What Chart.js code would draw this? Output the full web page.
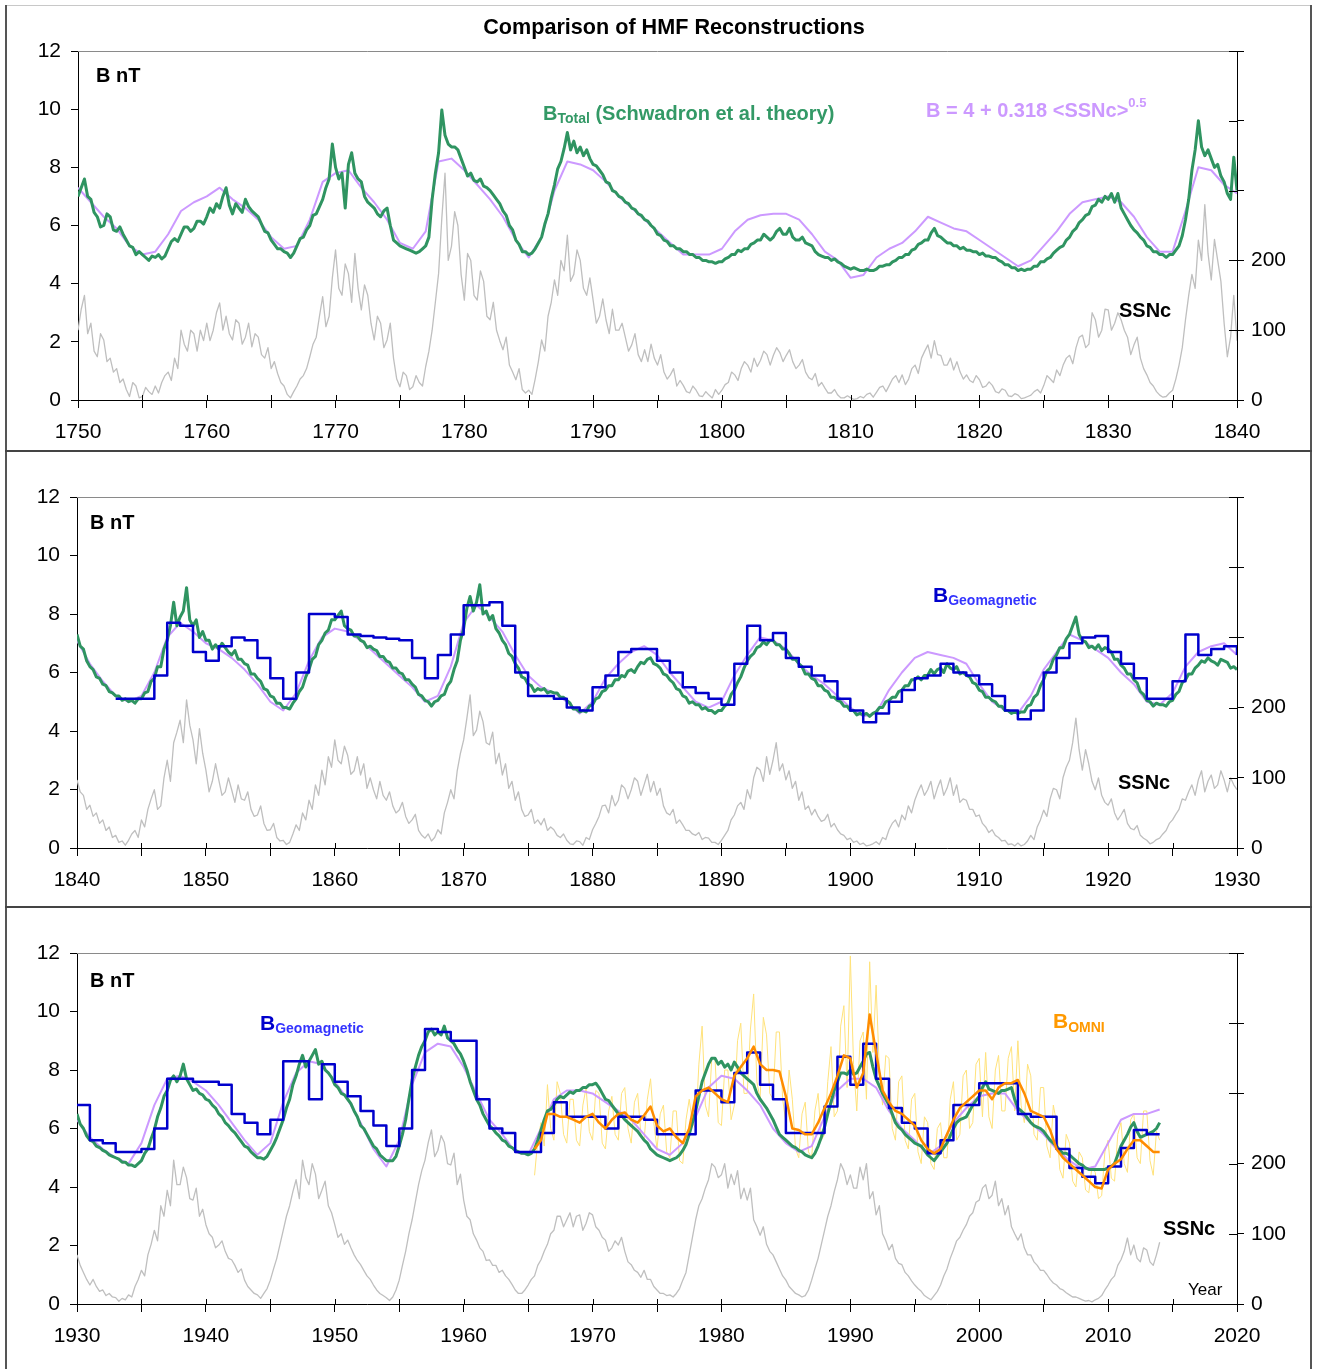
<!DOCTYPE html>
<html>
<head>
<meta charset="utf-8">
<title>Comparison of HMF Reconstructions</title>
<script src="https://cdn.jsdelivr.net/npm/chart.js@4.4.1/dist/chart.umd.min.js"></script>
<style>
  html, body { margin: 0; padding: 0; background: #fff; }
  #page { position: relative; width: 1318px; height: 1369px; overflow: hidden; background: #fff; }
  canvas { position: absolute; left: 0; }
  .rule { position: absolute; }
</style>
</head>
<body>
<div id="page">
  <canvas id="c1" width="1318" height="452" style="top:0px"></canvas>
  <canvas id="c2" width="1318" height="456" style="top:452px"></canvas>
  <canvas id="c3" width="1318" height="461" style="top:908px"></canvas>
  <div class="rule" style="left:5px;top:5px;width:1307px;height:1px;background:#c8c8c8"></div>
  <div class="rule" style="left:5px;top:5px;width:2px;height:1364px;background:#555"></div>
  <div class="rule" style="left:1310px;top:5px;width:2px;height:1364px;background:#555"></div>
  <div class="rule" style="left:5px;top:450px;width:1307px;height:2px;background:#444"></div>
  <div class="rule" style="left:5px;top:906px;width:1307px;height:2px;background:#444"></div>
</div>
<script>
// ---- data ----
// SSNc and B_Total every quarter year, SSN fit yearly, geomagnetic B as yearly steps

// panel 1: 1750-1840
const p1Years = [1750, 1840];
const p1Total = [ // B_Total nT, from 1750.0 every 0.25 yr
  7.0,7.3,7.6,7.0, 6.9,6.45,6.3,5.95, 6.0,6.4,6.3,5.85, 5.8,5.95,5.7,5.5, 5.3,5.25,5.0,5.1, 5.0,4.9,4.8,4.95, 4.9,5.0,4.85,4.95, 5.2,5.45,5.55,5.45, 5.7,5.95,5.95,5.8, 5.9,6.15,6.15,6.05,
  6.3,6.6,6.45,6.75, 6.6,7.0,7.3,6.7, 6.4,6.75,6.6,6.45, 6.9,6.65,6.5,6.4, 6.3,6.05,5.8,5.75, 5.5,5.35,5.2,5.2, 5.1,5.05,4.9,5.05, 5.3,5.55,5.6,5.85, 6.0,6.35,6.4,6.65, 6.9,7.3,7.6,8.8,
  8.0,7.6,7.8,6.6, 8.1,8.5,7.8,7.6, 7.5,7.0,6.8,6.7, 6.6,6.4,6.3,6.5, 6.6,6.0,5.5,5.4, 5.3,5.25,5.2,5.15, 5.1,5.05,5.1,5.2, 5.3,5.6,6.9,7.8, 8.5,9.97,9.1,8.8, 8.7,8.7,8.6,8.3,
  8.0,7.7,7.8,7.55, 7.5,7.6,7.35,7.3, 7.2,7.05,6.9,6.75, 6.5,6.35,6.0,5.85, 5.5,5.35,5.1,5.1, 5.0,5.05,5.2,5.4, 5.6,6.05,6.4,6.95, 7.4,7.95,8.2,8.65, 9.2,8.6,8.9,8.5, 8.7,8.4,8.6,8.3,
  8.1,8.05,7.9,7.75, 7.5,7.45,7.2,7.15, 7.0,6.95,6.8,6.75, 6.6,6.55,6.4,6.35, 6.2,6.15,6.0,5.9, 5.7,5.65,5.5,5.45, 5.3,5.3,5.2,5.2, 5.1,5.1,5.0,5.0, 4.9,4.9,4.8,4.8, 4.75,4.75,4.7,4.75,
  4.75,4.85,4.9,5.0, 5.0,5.15,5.1,5.2, 5.2,5.35,5.4,5.5, 5.5,5.7,5.6,5.5, 5.6,5.8,5.9,5.7, 5.7,5.9,5.6,5.5, 5.5,5.6,5.4,5.35, 5.3,5.1,5.0,4.95, 4.9,4.9,4.8,4.85, 4.75,4.7,4.6,4.55,
  4.5,4.55,4.5,4.45, 4.45,4.5,4.45,4.45, 4.5,4.6,4.6,4.65, 4.65,4.75,4.8,4.9, 4.9,5.0,5.0,5.15, 5.2,5.35,5.4,5.5, 5.5,5.75,5.9,5.65, 5.6,5.5,5.4,5.4, 5.3,5.3,5.2,5.25, 5.15,5.15,5.1,5.1,
  5.0,5.05,4.95,4.95, 4.9,4.9,4.8,4.75, 4.65,4.65,4.55,4.55, 4.45,4.5,4.45,4.5, 4.5,4.6,4.6,4.75, 4.75,4.85,4.9,5.05, 5.15,5.25,5.3,5.5, 5.6,5.8,5.9,6.1, 6.2,6.35,6.4,6.65, 6.7,6.9,6.8,7.0,
  6.9,7.1,6.8,7.1, 6.6,6.4,6.2,6.0, 5.85,5.75,5.6,5.5, 5.3,5.25,5.1,5.1, 5.0,5.0,4.9,5.0, 5.0,5.15,5.3,5.65, 6.2,6.9,7.9,8.6, 9.6,8.7,8.4,8.6, 8.3,8.0,8.1,7.7, 7.5,7.1,6.9,8.35,
  7.2
];
const p1Fit = [ // B = 4 + 0.318 <SSNc>^0.5, yearly from 1750
  7.3,6.8,6.3,5.9,5.3,5.0,5.1,5.7,6.5,6.8, 7.0,7.3,6.9,6.6,6.2,5.6,5.2,5.3,6.2,7.5,
  7.8,7.9,7.3,6.8,6.2,5.4,5.2,5.8,8.2,8.3, 7.9,7.4,6.9,6.3,5.5,4.9,5.6,7.2,8.2,8.1,
  7.9,7.5,7.0,6.6,6.2,5.8,5.4,5.0,5.0,5.0, 5.2,5.8,6.2,6.35,6.4,6.4,6.2,5.7,5.1,4.8,
  4.2,4.3,4.9,5.2,5.4,5.8,6.3,6.1,5.9,5.8, 5.5,5.2,4.9,4.6,4.8,5.3,5.8,6.4,6.8,6.9,
  7.0,6.8,6.3,5.6,5.1,5.1,6.5,8.0,7.9,7.4, 7.1
];
const p1Ssn = [ // SSNc, from 1750.0 every 0.25 yr
  100,130,150,95, 110,70,62,95, 86,55,60,40, 45,25,30,15, 5,25,20,3, 5,18,12,8, 20,10,25,35, 40,28,60,45, 100,80,70,100, 95,70,100,85,
  110,85,100,125, 139,100,120,95, 86,115,110,80, 90,110,76,95, 90,65,60,75, 45,55,38,25, 20,8,3,12, 20,30,35,45, 62,80,90,120, 148,105,120,175,
  215,160,150,195, 181,140,210,160, 129,165,150,110, 86,120,110,75, 86,110,60,30, 19,40,35,15, 19,35,25,20, 48,70,100,140, 181,260,325,200, 220,270,250,180,
  143,210,200,150, 143,185,170,120, 115,140,100,85, 72,90,50,40, 29,45,15,10, 14,8,30,55, 86,70,120,140, 172,150,200,185, 236,170,180,215, 200,160,150,175,
  143,110,120,145, 115,95,130,100, 100,110,90,70, 79,95,65,55, 72,55,80,60, 50,65,40,30, 36,45,20,28, 21,12,10,20, 14,6,5,12, 7,3,15,8,
  14,22,25,40, 36,28,45,55, 50,40,60,48, 57,70,65,50, 64,75,68,55, 64,72,55,45, 50,58,40,32, 29,38,20,25, 17,10,10,15, 7,3,3,6,
  3,1,2,5, 3,8,10,4, 11,18,20,12, 21,30,35,25, 36,22,30,45, 50,38,60,70, 79,60,85,65, 64,50,50,60, 43,55,40,30, 36,28,25,35,
  29,18,20,26, 21,12,10,16, 14,6,5,9, 7,2,3,5, 7,12,15,10, 21,35,30,25, 43,35,50,60, 64,52,75,90, 93,75,80,125, 115,90,100,130,
  129,100,110,125, 115,100,90,65, 79,90,60,45, 36,25,20,12, 7,4,5,10, 14,30,50,75, 115,150,180,160, 229,200,280,210, 172,230,200,170, 110,62,90,150,
  85
];

// panel 2: 1840-1930
const p2Years = [1840, 1930];
const p2Total = [ // from 1840.0 every 0.25 yr
  7.3,6.9,6.8,6.4, 6.2,6.1,5.85,5.8, 5.6,5.55,5.35,5.3, 5.2,5.2,5.05,5.1, 5.0,5.05,4.95,5.1, 5.1,5.3,5.35,5.7, 5.8,6.2,6.2,6.8, 7.1,7.6,8.4,7.6, 7.9,8.1,8.9,7.8, 7.6,7.8,7.2,7.4,
  7.1,7.1,6.8,6.95, 6.8,7.0,6.85,6.7, 6.6,6.75,6.45,6.45, 6.3,6.25,5.95,5.95, 5.8,5.7,5.45,5.4, 5.2,5.15,4.95,4.95, 4.8,4.8,4.75,4.95, 5.1,5.35,5.5,5.85, 6.1,6.45,6.55,6.95, 7.1,7.35,7.45,7.8,
  7.8,7.95,8.1,7.6, 7.5,7.45,7.25,7.25, 7.1,7.05,6.85,6.9, 6.8,6.75,6.55,6.55, 6.4,6.35,6.15,6.15, 6.0,5.95,5.75,5.75, 5.6,5.5,5.25,5.2, 5.05,5.0,4.85,5.0, 5.05,5.2,5.25,5.55, 5.7,6.1,6.4,7.1,
  7.5,8.2,8.6,8.1, 8.4,9.0,8.0,8.1, 7.8,7.95,7.5,7.35, 7.1,6.95,6.65,6.55, 6.3,6.15,5.85,5.8, 5.6,5.55,5.35,5.45, 5.4,5.45,5.3,5.35, 5.3,5.3,5.15,5.15, 5.05,4.95,4.75,4.75, 4.65,4.7,4.65,4.85,
  4.9,5.1,5.15,5.35, 5.4,5.55,5.55,5.75, 5.75,5.9,5.85,6.05, 6.1,6.0,6.2,6.35, 6.3,6.45,6.5,6.3, 6.25,6.15,5.95,5.9, 5.75,5.65,5.45,5.4, 5.2,5.15,4.95,5.0, 4.9,4.9,4.75,4.8, 4.7,4.7,4.6,4.7,
  4.7,4.85,4.95,5.25, 5.4,5.65,5.85,6.15, 6.4,6.55,6.65,6.85, 6.9,7.05,6.95,7.1, 7.1,6.95,6.95,6.8, 6.8,6.65,6.45,6.45, 6.3,6.2,5.95,5.95, 5.8,5.75,5.55,5.55, 5.4,5.35,5.15,5.15, 5.05,5.0,4.85,4.85,
  4.7,4.7,4.55,4.6, 4.55,4.6,4.5,4.6, 4.65,4.8,4.8,5.0, 5.05,5.15,5.15,5.35, 5.4,5.55,5.55,5.75, 5.75,5.85,5.75,5.9, 5.9,6.1,5.95,6.1, 6.15,6.0,6.3,6.15, 6.1,6.2,5.95,6.0, 5.9,5.85,5.65,5.6,
  5.4,5.35,5.15,5.15, 5.05,5.0,4.85,4.85, 4.7,4.7,4.6,4.65, 4.6,4.65,4.65,4.85, 4.9,5.15,5.25,5.55, 5.75,6.05,6.15,6.45, 6.6,6.85,6.85,7.15, 7.3,7.6,7.9,7.3, 7.1,7.05,6.85,6.9, 6.8,6.95,6.75,6.85,
  6.8,6.7,6.45,6.45, 6.25,6.15,5.95,5.95, 5.75,5.65,5.35,5.25, 5.05,5.0,4.85,4.95, 4.9,4.9,4.85,5.0, 5.05,5.25,5.35,5.65, 5.75,5.95,5.95,6.15, 6.25,6.4,6.35,6.5, 6.4,6.35,6.25,6.45, 6.4,6.35,6.15,6.2,
  6.1
];
const p2Fit = [
  7.1,6.3,5.7,5.2,5.0,5.2,6.0,7.2,7.7,7.4, 7.0,6.8,6.5,6.1,5.6,5.0,4.7,5.3,6.4,7.2,
  7.5,7.4,7.1,6.7,6.3,5.9,5.5,5.0,5.2,6.2, 7.7,8.3,7.9,7.4,6.6,5.9,5.5,5.3,5.0,4.6,
  5.0,5.8,6.3,6.7,6.9,6.6,6.0,5.5,5.0,4.8, 5.0,5.9,6.6,7.2,7.1,6.8,6.3,5.9,5.6,5.2,
  4.8,4.5,4.6,5.4,6.0,6.5,6.7,6.6,6.5,6.3, 5.6,5.0,4.7,4.6,5.2,6.1,6.7,7.3,7.1,6.8,
  6.5,6.0,5.6,5.0,4.9,5.3,6.2,6.7,6.9,7.0, 6.6
];
const p2GeoStart = 1843;
const p2Geo = [ // B_Geomagnetic, yearly steps from 1843, closing value at 1930
  5.1,5.1,5.1,5.9,7.7,7.6,6.7,6.4,6.9,7.2,7.1,
  6.5,5.8,5.1,6.0,8.0,8.0,7.9,7.3,7.25,7.2,
  7.15,7.1,6.5,5.8,6.6,7.3,8.3,8.3,8.4,7.6,
  6.0,5.2,5.2,5.1,4.8,4.7,5.5,5.9,6.7,6.8,
  6.8,6.4,6.0,5.5,5.3,5.1,4.9,6.3,7.6,7.1,
  7.35,6.5,6.2,5.9,5.7,5.1,4.7,4.3,4.6,5.0,
  5.4,5.8,5.9,6.3,6.0,5.9,5.6,5.2,4.7,4.4,
  4.7,6.0,6.5,7.0,7.2,7.25,6.7,6.3,5.8,5.1,
  5.1,5.7,7.3,6.6,6.8,6.9,6.6
];
const p2Ssn = [ // from 1840.0 every 0.25 yr
  97,80,75,55, 61,45,50,35, 40,25,30,15, 18,8,10,4, 11,20,25,15, 40,30,55,70, 83,55,60,100, 125,95,150,165, 182,150,211,175, 154,120,170,135,
  111,80,95,120, 97,75,80,100, 83,65,90,70, 68,80,55,45, 47,60,35,25, 26,35,15,10, 11,5,8,20, 33,25,50,40, 68,55,90,75, 111,90,130,115,
  154,125,120,145, 132,105,110,130, 104,120,85,100, 83,70,95,75, 68,80,60,50, 54,65,45,35, 40,48,25,18, 14,20,10,15, 26,20,50,65, 83,70,110,135,
  154,185,218,160, 168,195,180,150, 147,165,120,135, 104,120,85,95, 68,80,55,45, 47,55,35,40, 33,42,25,30, 26,18,15,20, 11,6,5,10, 9,4,15,12,
  26,35,45,60, 61,50,75,60, 68,90,85,70, 83,100,95,75, 90,105,80,95, 75,85,60,50, 47,55,35,40, 33,25,25,20, 18,22,12,15, 14,8,8,5,
  11,18,25,40, 47,60,65,55, 83,70,100,115, 111,95,130,105, 125,150,110,120, 97,110,85,95, 68,80,55,60, 47,55,45,38, 40,48,30,35, 26,20,18,12,
  14,8,10,5, 7,3,4,6, 9,5,15,12, 26,35,40,30, 47,40,60,50, 68,80,90,75, 83,95,70,85, 97,75,85,100, 75,90,65,70, 68,55,55,45,
  47,35,30,22, 26,18,15,10, 11,5,6,3, 7,3,5,10, 18,12,30,40, 54,45,70,85, 83,70,100,115, 125,150,185,140, 111,140,120,95, 83,100,75,65,
  61,70,50,40, 47,55,35,28, 26,32,18,14, 11,6,8,12, 14,20,25,35, 40,48,55,70, 68,80,90,75, 97,110,80,95, 104,85,90,110, 97,80,100,90,
  83
];

// panel 3: 1930-2020 (data end 2014)
const p3Years = [1930, 2020];
const p3Total = [ // from 1930.0 every 0.25 yr
  6.5,6.15,6.0,5.75, 5.6,5.55,5.4,5.35, 5.25,5.2,5.1,5.05, 5.0,4.95,4.85,4.85, 4.75,4.75,4.7,4.8, 4.9,5.15,5.3,5.65, 5.95,6.4,6.7,7.1, 7.3,7.65,7.8,7.6, 7.8,8.2,7.7,7.5, 7.3,7.35,7.2,7.15,
  7.0,6.95,6.8,6.7, 6.5,6.4,6.2,6.1, 5.95,5.85,5.7,5.55, 5.4,5.35,5.2,5.1, 5.0,5.0,4.95,5.05, 5.25,5.45,5.7,6.0, 6.3,6.7,7.0,7.5, 7.8,8.2,8.5,8.1, 8.3,8.5,8.7,8.2, 8.3,8.0,7.9,7.75,
  7.5,7.4,7.2,7.15, 7.0,6.85,6.6,6.4, 6.1,6.0,5.8,5.6, 5.4,5.3,5.1,5.0, 4.9,4.9,4.9,5.05, 5.4,5.8,6.3,7.0, 7.66,8.1,8.5,8.8, 9.0,9.3,9.4,9.2, 9.3,9.2,9.5,9.1, 9.0,8.9,8.7,8.55,
  8.3,8.0,7.6,7.3, 7.0,6.8,6.5,6.3, 6.1,6.0,5.85,5.75, 5.6,5.55,5.4,5.35, 5.25,5.2,5.15,5.15, 5.1,5.15,5.3,5.6, 5.95,6.3,6.6,6.65, 6.8,7.0,7.1,7.05, 7.15,7.25,7.2,7.3, 7.3,7.4,7.4,7.5,
  7.5,7.55,7.4,7.2, 7.0,6.95,6.8,6.65, 6.5,6.45,6.3,6.2, 6.1,6.0,5.9,5.75, 5.6,5.5,5.3,5.2, 5.1,5.05,5.0,4.95, 4.9,4.95,5.0,5.1, 5.25,5.45,5.8,6.2, 6.6,7.1,7.6,7.9, 8.2,8.4,8.4,8.2,
  8.3,8.1,8.2,8.0, 8.27,8.1,7.9,7.8, 7.7,7.6,7.5,7.2, 7.0,6.85,6.7,6.5, 6.3,6.05,5.8,5.7, 5.6,5.5,5.4,5.35, 5.25,5.2,5.1,5.05, 5.0,5.15,5.4,5.7, 6.05,6.5,6.9,7.3, 7.6,7.9,7.9,7.85,
  8.0,7.85,7.9,8.1, 8.3,8.55,8.6,8.1, 7.7,7.45,7.2,7.0, 6.8,6.5,6.2,6.05, 5.95,5.8,5.7,5.6, 5.5,5.45,5.4,5.25, 5.1,5.0,4.9,5.05, 5.2,5.35,5.5,5.75, 6.0,6.2,6.3,6.35, 6.4,6.6,6.8,6.95,
  7.1,7.4,7.6,7.35, 7.3,7.25,7.2,7.3, 7.3,7.35,7.4,7.0, 6.7,6.6,6.5,6.35, 6.2,6.1,6.05,6.0, 5.9,5.75,5.6,5.5, 5.4,5.25,5.15,5.15, 5.1,5.0,4.9,4.8, 4.75,4.65,4.6,4.6, 4.6,4.6,4.6,4.6,
  4.65,4.7,4.8,5.1, 5.4,5.6,5.8,6.05, 6.2,5.9,5.7,5.75, 5.8,5.85,5.9,6.0, 6.2
];
const p3Fit = [ // yearly 1930-2014
  6.3,5.7,5.3,5.0,4.8,5.5,6.8,7.7,7.8,7.6, 7.3,6.8,6.2,5.6,5.1,5.5,6.9,7.9,8.3,8.2,
  7.6,7.0,6.2,5.3,4.7,5.6,7.5,8.6,8.9,8.8, 8.1,7.2,6.3,5.8,5.2,5.1,6.0,7.0,7.3,7.3,
  7.2,6.9,6.6,6.3,5.8,5.3,5.1,5.5,6.4,7.4, 7.8,7.7,7.3,6.8,6.0,5.5,5.2,5.4,6.4,7.3,
  7.7,7.7,7.4,6.6,6.0,5.6,5.1,5.4,6.2,6.7, 7.1,7.2,7.2,6.6,6.2,5.8,5.3,4.9,4.6,4.7,
  5.5,6.3,6.5,6.5,6.65
];
const p3GeoStart = 1930;
const p3Geo = [ // yearly steps 1930-2013, closing value at 2014
  6.8,5.6,5.5,5.2,5.2,5.3,6.0,7.7,7.7,7.6, 7.6,7.5,6.5,6.2,5.8,6.3,8.3,8.3,7.0,8.2,
  7.6,7.1,6.6,6.1,5.4,6.0,8.0,9.4,9.3,9.0, 9.0,7.0,6.0,5.85,5.2,5.2,5.85,6.9,6.4,6.4,
  6.4,6.0,6.4,6.4,6.3,5.8,5.8,5.8,7.3,7.3, 6.9,7.9,8.6,7.5,7.0,5.85,5.85,5.85,6.75,8.45,
  7.5,8.9,7.7,6.7,6.2,6.0,5.15,5.6,6.8,6.8, 7.55,7.55,7.55,6.5,6.4,6.4,5.3,4.65,4.35,4.13,
  4.7,5.33,5.95,5.8,5.8
];
const p3OmniStart = 1965.5;
const p3Omni = [ // B_OMNI smoothed, every 0.5 yr from 1965.5
  5.3,
  5.6,6.5, 6.5,6.4, 6.4,6.3, 6.2,6.4, 6.5,6.2, 6.0,6.3, 6.5,6.55, 6.3,6.2, 6.45,6.75, 6.1,5.9,
  6.0,5.7, 5.5,6.0, 7.1,7.3, 7.4,7.2, 7.0,6.9, 7.8,8.1, 8.4,8.8, 8.2,8.0, 8.0,7.95, 7.1,6.0,
  5.95,5.8, 5.8,6.2, 6.7,7.2, 7.8,8.5, 8.4,7.4, 7.9,9.9, 8.6,7.3, 6.9,6.6, 6.5,6.3, 6.1,5.6,
  5.3,5.15, 5.3,5.8, 6.3,6.7, 6.9,7.1, 7.3,7.3, 7.0,7.4, 7.55,7.55, 7.66,7.2, 6.6,6.5, 6.4,5.95,
  5.3,5.0, 4.8,4.6, 4.4,4.2, 4.0,3.95, 4.6,4.8, 4.95,5.3, 5.6,5.6, 5.4,5.2, 5.2
];
const p3OmniRawStart = 1965.5;
const p3OmniRaw = [ // B_OMNI unsmoothed, every 0.25 yr from 1965.5
  4.4,5.6,
  6.2,5.4,7.5,6.0, 5.6,7.6,7.2,5.8, 5.5,7.0,7.0,5.6, 5.4,6.8,7.4,5.9, 5.6,7.3,7.2,5.5, 5.3,6.6,7.1,5.8, 5.6,7.2,7.4,6.0, 5.5,6.9,7.2,5.8, 5.6,7.0,7.7,6.2, 5.3,6.5,6.8,5.2,
  5.0,6.6,6.6,4.9, 4.8,6.3,7.0,6.2, 6.0,8.2,9.5,6.8, 6.4,8.4,8.4,6.2, 6.1,8.0,8.0,6.3, 6.8,9.0,9.6,7.2, 7.2,9.4,10.6,7.6, 7.0,9.8,9.2,7.2, 7.0,9.3,9.3,7.0, 6.2,8.0,7.0,5.3,
  5.0,6.5,6.9,5.2, 5.0,6.6,7.2,5.6, 5.8,7.6,8.8,6.4, 6.6,9.5,10.2,7.4, 11.9,8.2,6.6,9.0, 9.3,7.0,11.7,8.6, 10.9,8.0,6.8,8.5, 8.4,6.0,5.6,7.6, 7.8,5.6,5.3,7.0, 7.2,5.2,4.8,6.4,
  6.2,4.8,4.6,6.0, 6.2,5.0,5.0,7.0, 7.6,5.6,5.8,7.8, 8.0,6.0,6.2,8.2, 8.4,6.4,8.6,6.4, 6.0,8.0,8.5,6.6, 6.6,8.4,8.8,6.6, 9.0,6.8,6.2,8.2, 7.8,5.8,5.6,7.4, 7.4,5.4,5.0,6.8,
  6.2,4.6,4.3,5.8, 5.5,4.2,4.0,5.2, 5.0,3.9,3.8,4.7, 4.5,3.6,3.7,5.2, 5.6,4.3,4.2,5.8, 6.2,4.8,4.5,6.3, 6.5,5.0,4.8,6.6, 6.6,4.9,4.4,5.9,
  5.6
];
const p3Ssn = [ // from 1930.0 every 0.25 yr
  70,55,45,35, 27,35,25,18, 20,12,15,10, 9,4,8,6, 13,10,25,35, 48,40,70,85, 105,90,140,125, 162,140,205,170, 170,195,180,150, 148,165,125,135,
  113,100,95,80, 84,90,75,65, 63,55,45,50, 34,25,20,15, 13,8,15,22, 34,50,65,85, 105,125,140,160, 177,150,205,180, 170,200,185,150, 162,175,140,130,
  113,95,100,85, 91,80,70,62, 56,48,40,35, 27,20,15,12, 9,5,10,20, 34,55,75,100, 120,145,170,190, 205,230,248,210, 219,240,230,200, 198,215,170,185,
  148,125,120,100, 91,80,75,62, 63,55,55,45, 48,40,35,28, 20,15,15,20, 27,35,40,55, 63,75,85,100, 105,125,125,110, 120,130,110,125, 127,105,115,130,
  127,110,105,95, 91,75,80,90, 84,95,75,60, 56,48,45,38, 48,35,35,25, 20,15,15,12, 13,10,15,22, 34,45,70,95, 120,140,150,165, 177,200,195,180,
  184,200,165,185, 170,190,150,165, 148,165,120,110, 98,110,85,75, 70,60,50,40, 34,25,20,15, 13,10,12,20, 34,50,65,85, 105,125,140,160, 177,200,190,170,
  184,165,165,195, 177,200,150,160, 127,140,100,90, 77,85,65,58, 56,45,40,33, 27,22,18,12, 9,6,12,18, 27,40,50,65, 77,90,95,105, 113,125,130,145,
  148,165,170,150, 155,175,140,150, 127,140,110,100, 91,100,80,70, 70,60,55,48, 48,42,35,30, 27,22,20,16, 13,10,10,8, 6,4,5,3, 6,8,12,20,
  27,35,40,55, 63,75,94,70, 84,65,60,80, 77,60,55,70, 88
];

const bTicks = [0, 12, 2];       // left axis min, max, step
const ssnTicks = [0, 500, 100];  // right axis min, max, step
const ssnLabelMax = 200;

// ---- drawing ----
const FONT = "'Liberation Sans', Arial, Helvetica, sans-serif";
const C_TOTAL = '#2f9461';
const C_FIT = '#cc99ff';
const C_GEO = '#0000cc';
const C_OMNI = '#ff8c00';
const C_RAW = '#ffe27a';
const C_SSN = '#bfbfbf';

function pts(start, step, vals) {
  return vals.map((v, i) => ({ x: start + i * step, y: v }));
}

function ds(data, color, width, extra) {
  return Object.assign({
    data: data, borderColor: color, borderWidth: width, pointRadius: 0,
    fill: false, tension: 0, yAxisID: 'y', borderJoinStyle: 'round'
  }, extra || {});
}

const overlay = {
  id: 'overlay',
  afterDraw(chart, args, opts) {
    const ctx = chart.ctx, a = chart.chartArea;
    const sx = chart.scales.x, s2 = chart.scales.y2;
    ctx.save();
    // gray frame line along the top of the plot
    ctx.strokeStyle = '#8a8a8a';
    ctx.lineWidth = 1;
    ctx.beginPath();
    ctx.moveTo(a.left, a.top + 0.5);
    ctx.lineTo(a.right, a.top + 0.5);
    ctx.stroke();
    // tick marks crossing into the plot
    ctx.strokeStyle = '#000';
    ctx.beginPath();
    sx.ticks.forEach(t => {
      const px = Math.round(sx.getPixelForValue(t.value)) + 0.5;
      ctx.moveTo(px, a.bottom);
      ctx.lineTo(px, a.bottom - 5);
    });
    s2.ticks.forEach(t => {
      const py = Math.round(s2.getPixelForValue(t.value)) + 0.5;
      ctx.moveTo(a.right, py);
      ctx.lineTo(a.right - 8, py);
    });
    ctx.stroke();
    // annotations
    (opts.notes || []).forEach(n => {
      ctx.textBaseline = 'alphabetic';
      let cx = n.x;
      if (n.center) {
        ctx.font = n.parts[0].font;
        cx = n.x - ctx.measureText(n.parts[0].text).width / 2;
      }
      n.parts.forEach(p => {
        ctx.font = p.font;
        ctx.fillStyle = p.color;
        ctx.textAlign = 'left';
        ctx.fillText(p.text, cx, n.y + (p.dy || 0));
        cx += ctx.measureText(p.text).width;
      });
    });
    ctx.restore();
  }
};

function bold(sz) { return 'bold ' + sz + 'px ' + FONT; }

function panel(id, years, top, bottom, left, right, datasets, notes) {
  const cv = document.getElementById(id);
  const W = cv.width, H = cv.height;
  const tickFont = { family: FONT, size: 21 };
  return new Chart(cv, {
    type: 'line',
    data: { datasets: datasets },
    options: {
      responsive: false,
      animation: false,
      events: [],
      layout: { padding: { top: top, left: 0, right: 0, bottom: 0 } },
      plugins: { legend: { display: false }, tooltip: { enabled: false }, overlay: { notes: notes } },
      scales: {
        x: {
          type: 'linear', min: years[0], max: years[1],
          afterFit: s => { s.height = H - bottom; },
          ticks: {
            stepSize: 5, autoSkip: false, maxRotation: 0, color: '#000', font: tickFont, padding: 12,
            callback: v => (v % 10 === 0 ? String(v) : '')
          },
          grid: { drawOnChartArea: false, tickLength: 8, color: '#000' },
          border: { color: '#000', width: 1 }
        },
        y: {
          position: 'left', min: bTicks[0], max: bTicks[1],
          afterFit: s => { s.width = left; },
          ticks: { stepSize: bTicks[2], color: '#000', font: tickFont, padding: 10 },
          grid: { drawOnChartArea: false, tickLength: 7, color: '#000' },
          border: { color: '#000', width: 1 }
        },
        y2: {
          position: 'right', min: ssnTicks[0], max: ssnTicks[1],
          afterFit: s => { s.width = W - right; },
          ticks: {
            stepSize: ssnTicks[2], color: '#000', font: tickFont, padding: 7,
            callback: v => (v <= ssnLabelMax ? String(v) : '')
          },
          grid: { drawOnChartArea: false, tickLength: 7, color: '#000' },
          border: { color: '#000', width: 1 }
        }
      }
    },
    plugins: [overlay]
  });
}

// panel 1
panel('c1', p1Years, 51, 400, 78, 1237, [
  ds(pts(p1Years[0], 0.25, p1Total), C_TOTAL, 3),
  ds(pts(p1Years[0], 1, p1Fit), C_FIT, 2),
  ds(pts(p1Years[0], 0.25, p1Ssn), C_SSN, 1.3, { yAxisID: 'y2' })
], [
  { x: 674, y: 34, center: true, parts: [{ text: 'Comparison of HMF Reconstructions', font: bold(21.6), color: '#000' }] },
  { x: 96, y: 82, parts: [{ text: 'B nT', font: bold(20), color: '#000' }] },
  { x: 543, y: 120, parts: [
    { text: 'B', font: bold(20), color: '#339966' },
    { text: 'Total', font: bold(14), color: '#339966', dy: 3 },
    { text: ' (Schwadron et al. theory)', font: bold(20), color: '#339966' }
  ] },
  { x: 926, y: 117, parts: [
    { text: 'B = 4 + 0.318 <SSNc>', font: bold(20), color: C_FIT },
    { text: '0.5', font: bold(13), color: C_FIT, dy: -10 }
  ] },
  { x: 1119, y: 317, parts: [{ text: 'SSNc', font: bold(20), color: '#000' }] }
]);

// panel 2
panel('c2', p2Years, 45, 396, 77, 1237, [
  ds(pts(p2GeoStart, 1, p2Geo), C_GEO, 2.5, { stepped: 'before' }),
  ds(pts(p2Years[0], 0.25, p2Total), C_TOTAL, 3),
  ds(pts(p2Years[0], 1, p2Fit), C_FIT, 2),
  ds(pts(p2Years[0], 0.25, p2Ssn), C_SSN, 1.3, { yAxisID: 'y2' })
], [
  { x: 90, y: 77, parts: [{ text: 'B nT', font: bold(20), color: '#000' }] },
  { x: 933, y: 150, parts: [
    { text: 'B', font: bold(21), color: C_GEO },
    { text: 'Geomagnetic', font: bold(14), color: '#3333ff', dy: 3 }
  ] },
  { x: 1118, y: 337, parts: [{ text: 'SSNc', font: bold(20), color: '#000' }] }
]);

// panel 3
panel('c3', p3Years, 45, 396, 77, 1237, [
  ds(pts(p3OmniStart, 0.5, p3Omni), C_OMNI, 2.5),
  ds(pts(p3GeoStart, 1, p3Geo), C_GEO, 2.5, { stepped: 'before' }),
  ds(pts(p3Years[0], 0.25, p3Total), C_TOTAL, 3),
  ds(pts(p3Years[0], 1, p3Fit), C_FIT, 2),
  ds(pts(p3OmniRawStart, 0.25, p3OmniRaw), C_RAW, 1),
  ds(pts(p3Years[0], 0.25, p3Ssn), C_SSN, 1.3, { yAxisID: 'y2' })
], [
  { x: 90, y: 79, parts: [{ text: 'B nT', font: bold(20), color: '#000' }] },
  { x: 260, y: 122, parts: [
    { text: 'B', font: bold(21), color: C_GEO },
    { text: 'Geomagnetic', font: bold(14), color: '#3333ff', dy: 3 }
  ] },
  { x: 1053, y: 120, parts: [
    { text: 'B', font: bold(21), color: '#ff9900' },
    { text: 'OMNI', font: bold(14), color: '#ff9900', dy: 4 }
  ] },
  { x: 1163, y: 327, parts: [{ text: 'SSNc', font: bold(20), color: '#000' }] },
  { x: 1188, y: 387, parts: [{ text: 'Year', font: '17px ' + FONT, color: '#000' }] }
]);
</script>
</body>
</html>
